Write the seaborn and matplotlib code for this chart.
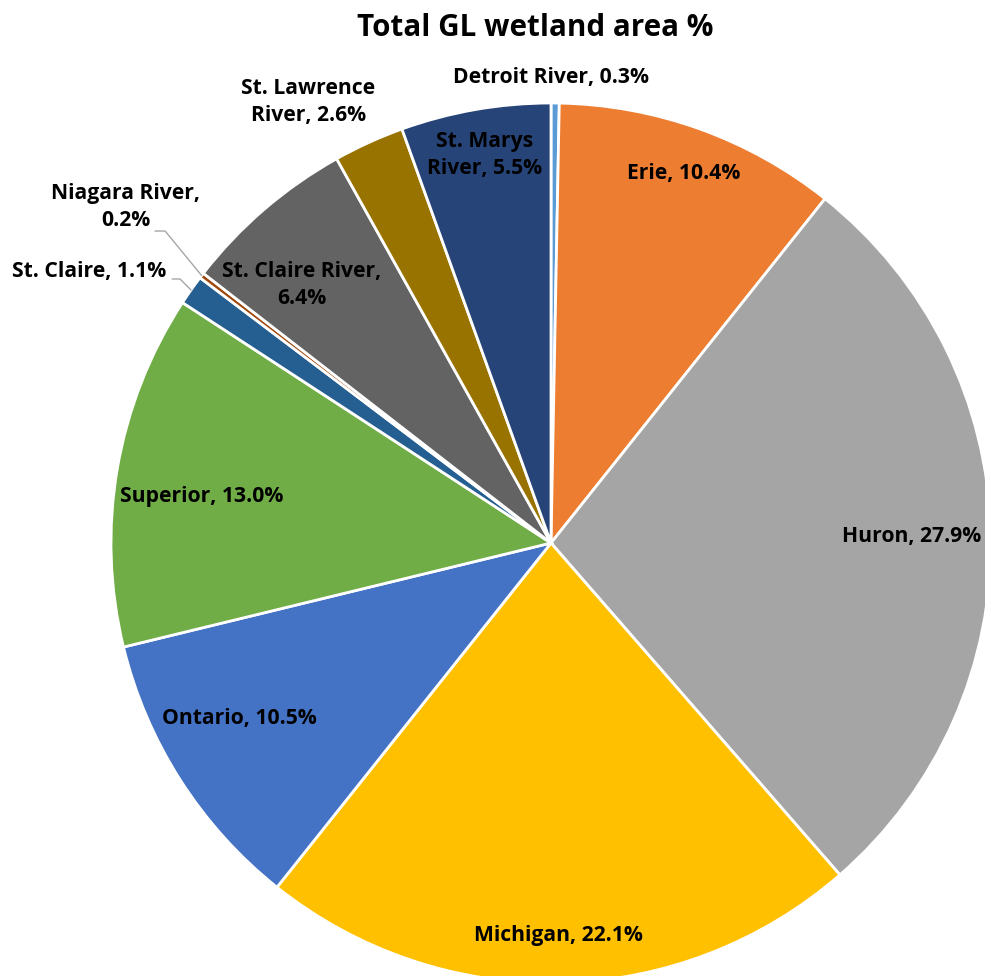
import numpy as np
import matplotlib
matplotlib.use("Agg")
import matplotlib.pyplot as plt
import seaborn as sns

# ---- data ----
categories = ["Detroit River", "Erie", "Huron", "Michigan", "Ontario", "Superior",
              "St. Claire", "Niagara River", "St. Claire River", "St. Lawrence River",
              "St. Marys River"]
values = [0.3, 10.4, 27.9, 22.1, 10.5, 13.0, 1.1, 0.2, 6.4, 2.6, 5.5]
label_texts = ["Detroit River, 0.3%", "Erie, 10.4%", "Huron, 27.9%", "Michigan, 22.1%",
               "Ontario, 10.5%", "Superior, 13.0%", "St. Claire, 1.1%",
               "Niagara River,\n0.2%", "St. Claire River,\n6.4%",
               "St. Lawrence\nRiver, 2.6%", "St. Marys\nRiver, 5.5%"]
colors = ["#5B9BD5", "#ED7D31", "#A5A5A5", "#FFC000", "#4472C4", "#70AD47",
          "#255E91", "#9E480E", "#636363", "#997300", "#264478"]
title = "Total GL wetland area %"

# ---- layout (label positions in pie data units) ----
label_pos = [(0.0, 1.057), (0.302, 0.839), (0.820, 0.014), (0.018, -0.893),
             (-0.709, -0.398), (-0.795, 0.105), (-1.05, 0.618), (-0.966, 0.764),
             (-0.566, 0.586), (-0.552, 1.002), (-0.152, 0.882)]
leaders = {6: [(-0.861, 0.600), (-0.843, 0.600)],
           7: [(-0.900, 0.709), (-0.877, 0.709)]}

sns.set_theme(style="white")
plt.rcParams['font.family'] = ['Open Sans', 'DejaVu Sans']

W, H = 985, 976
fig = plt.figure(figsize=(W / 100, H / 100), dpi=100)
cx, cy, R = 551, 543, 440
ax = fig.add_axes([(cx - R) / W, (H - cy - R) / H, 2 * R / W, 2 * R / H])

wedges, _ = ax.pie(values, colors=colors, startangle=90, counterclock=False,
                   wedgeprops=dict(edgecolor="white", linewidth=2))
ax.set_xlim(-1, 1)
ax.set_ylim(-1, 1)
ax.set_aspect("equal")
ax.axis("off")
for w in wedges:
    w.set_clip_on(False)

total = sum(values)
cum = np.cumsum([0] + values)
for i, (txt, (lx, ly)) in enumerate(zip(label_texts, label_pos)):
    ax.text(lx, ly, txt, ha="center", va="center", fontsize=15.2, fontweight="bold",
            color="black", linespacing=1.4, clip_on=False)
    if i in leaders:
        mid = (cum[i] + values[i] / 2) / total
        ang = np.deg2rad(90 - mid * 360)
        pts = leaders[i] + [(np.cos(ang), np.sin(ang))]
        xs, ys = zip(*pts)
        ax.plot(xs, ys, color="#A6A6A6", lw=1, clip_on=False)

fig.text(535 / W, 1 - 28 / H, title, ha="center", va="center", fontsize=21.3,
         fontweight="bold", color="black")

fig.savefig("out.png", dpi=100)
